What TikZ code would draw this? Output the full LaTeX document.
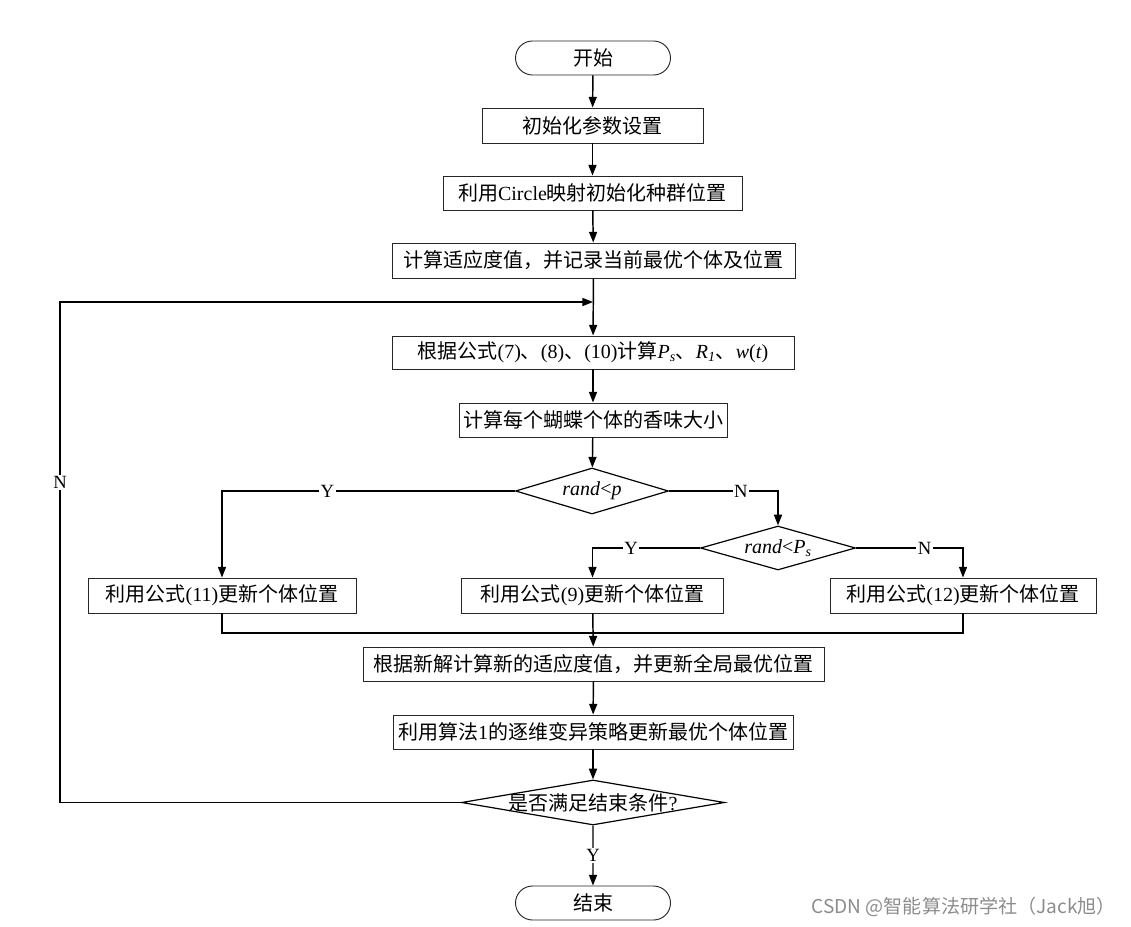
\documentclass[tikz,border=0pt]{standalone}
\usepackage{fontspec}
\setmainfont{Liberation Serif}
\newfontfamily\zhfont{Noto Sans CJK SC}
\usetikzlibrary{arrows.meta,shapes.geometric,shapes.misc}
\newcommand\zh[1]{{\zhfont #1}}
\begin{document}
\begin{tikzpicture}[x=0.75pt,y=-0.75pt,
  box/.style={draw=black!85, line width=0.7pt, inner sep=0pt, font=\fontsize{15}{16}\selectfont},
  sz/.style 2 args={minimum width=#1*0.75pt, minimum height=#2*0.75pt},
  term/.style={box, rounded rectangle},
  dia/.style={draw=black, line width=0.9pt, diamond, inner sep=0pt},
  dtext/.style={inner sep=0pt, font=\fontsize{15}{16}\selectfont},
  conn/.style={line width=1.1pt, -{Triangle[length=8pt,width=6pt]}},
  plain/.style={line width=1.1pt},
  lab/.style={fill=white, inner sep=1pt, font=\fontsize{14}{15}\selectfont}
]
\useasboundingbox (0,0) rectangle (1131,927);

\node[term, sz={155}{34}] (start) at (593,58) {\zh{开始}};
\node[box, sz={221}{35}] (b1) at (592.5,125.5) {\zh{初始化参数设置}};
\node[box, sz={299}{34}] (b2) at (592.5,193) {\zh{利用}Circle\zh{映射初始化种群位置}};
\node[box, sz={403}{35}] (b3) at (593.5,260.5) {\zh{计算适应度值，并记录当前最优个体及位置}};
\node[box, sz={402}{33}] (b4) at (593,352.5) {\zh{根据公式}(7)\zh{、}(8)\zh{、}(10)\zh{计算}\textit{P}\textsubscript{\textit{s}}\zh{、}\textit{R}\textsubscript{\textit{1}}\zh{、}\textit{w}(\textit{t})};
\node[box, sz={268}{34}] (b5) at (593,420) {\zh{计算每个蝴蝶个体的香味大小}};

\node[dia, sz={153}{46}] (d1) at (592,491) {};
\node[dtext] (d1t) at (d1) {\textit{rand}<\textit{p}};
\node[dia, sz={155}{44}] (d2) at (778,548) {};
\node[dtext] (d2t) at (d2) {\textit{rand}<\textit{P}\textsubscript{\textit{s}}};

\node[box, sz={268}{35}] (bl) at (222,595.5) {\zh{利用公式}(11)\zh{更新个体位置}};
\node[box, sz={262}{35}] (bm) at (592.5,595.5) {\zh{利用公式}(9)\zh{更新个体位置}};
\node[box, sz={266}{35}] (br) at (963,595.5) {\zh{利用公式}(12)\zh{更新个体位置}};

\node[box, sz={461}{34}] (b7) at (593.5,664) {\zh{根据新解计算新的适应度值，并更新全局最优位置}};
\node[box, sz={400}{34}] (b8) at (593,732) {\zh{利用算法}1\zh{的逐维变异策略更新最优个体位置}};

\node[dia, sz={263}{45}] (d3) at (593,802.5) {};
\node[dtext] (d3t) at (d3) {\zh{是否满足结束条件}?};

\node[term, sz={155}{34}] (end) at (593,903) {\zh{结束}};

\node[anchor=east, text=black!45, inner sep=0pt, font=\zhfont\fontsize{14.3}{15}\selectfont] (wm) at (1116,907) {CSDN @智能算法研学社（Jack旭）};

\coordinate (j) at (593,302);
\coordinate (lt) at (60,302);
\coordinate (m) at (593,633);

\draw[conn] (start) -- (b1);
\draw[conn] (b1) -- (b2);
\draw[conn] (b2) -- (b3);
\draw[conn] (b3) -- (b4);
\draw[conn] (b4) -- (b5);
\draw[conn] (b5) -- (d1);
\draw[conn] (d1.west) -| node[lab, pos=0.32]{Y} (bl.north);
\draw[conn] (d1.east) -| node[lab, pos=0.33]{N} (d2.north);
\draw[conn] (d2.west) -| node[lab, pos=0.32]{Y} (bm.north);
\draw[conn] (d2.east) -| node[lab, pos=0.32]{N} (br.north);
\draw[conn] (bm) -- (b7);
\draw[plain] (bl.south) |- (m);
\draw[plain] (br.south) |- (m);
\draw[conn] (b7) -- (b8);
\draw[conn] (b8) -- (d3);
\draw[conn] (d3) -- node[lab]{Y} (end);
\draw[conn] (d3.west) -| node[lab, pos=0.82]{N} (lt) -- (j);
\end{tikzpicture}
\end{document}
